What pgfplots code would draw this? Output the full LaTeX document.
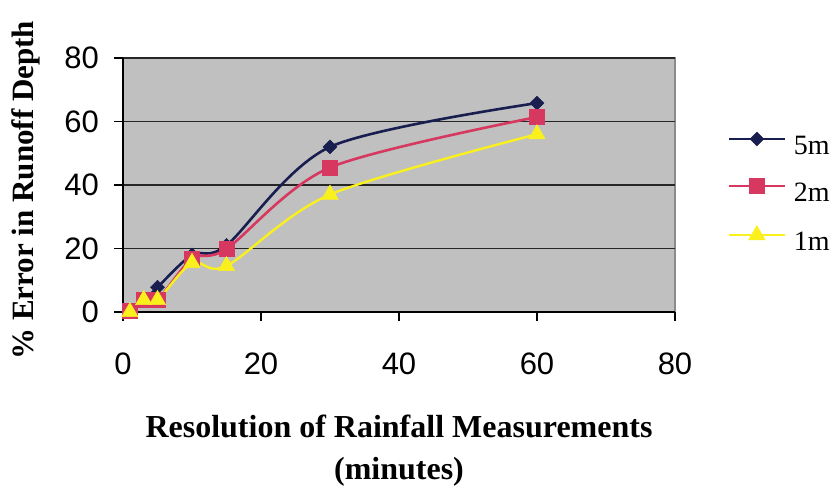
\documentclass[border=0pt]{standalone}
\usepackage{fontspec}
\usepackage{pgfplots}
\pgfplotsset{compat=1.18}
\setmainfont{Liberation Serif}
\newfontfamily\arialfont{Liberation Sans}

\definecolor{navyline}{RGB}{25,30,80}
\definecolor{crimsonline}{RGB}{214,56,96}
\definecolor{yellowline}{RGB}{250,240,30}
\definecolor{plotbg}{RGB}{192,192,192}
\definecolor{framegray}{RGB}{140,140,140}

\begin{document}
\begin{tikzpicture}
\begin{axis}[
  at={(123pt,177pt)},
  scale only axis,
  width=552pt, height=254pt,
  xmin=0, xmax=80, ymin=0, ymax=80,
  xtick={0,20,40,60,80}, ytick={0,20,40,60,80},
  axis x line*=bottom, axis y line*=left,
  axis line style={black, line width=1.4pt},
  axis background/.style={fill=plotbg, draw=framegray, line width=2pt},
  ymajorgrids, major grid style={black!85, line width=1.6pt},
  tick align=outside, major tick length=9pt,
  tick style={black, line width=1.2pt},
  /pgf/number format/assume math mode=true,
  ticklabel style={font=\arialfont\fontsize{31}{34}\selectfont},
  xticklabel style={inner sep=0pt, yshift=-32pt},
  yticklabel style={inner sep=0pt, xshift=-15pt},
  clip=false,
  xlabel={Resolution of Rainfall Measurements\\(minutes)},
  xlabel style={at={(axis description cs:0.5,-0.4055)}, anchor=north,
    align=center, inner sep=0pt, font=\bfseries\fontsize{32}{42}\selectfont},
  ylabel={\% Error in Runoff Depth},
  ylabel style={at={(axis description cs:-0.176,0.48)}, anchor=center,
    inner sep=0pt, font=\bfseries\fontsize{31}{34}\selectfont},
  legend style={at={(axis description cs:1.188,0.475)}, anchor=center,
    draw=none, fill=none, font=\fontsize{28}{28}\selectfont,
    row sep=24pt, cells={anchor=west},
    nodes={inner sep=0pt, text height=19pt, text depth=0pt},
    /tikz/every odd column/.append style={column sep=8pt}},
  legend image code/.code={
    \draw[mark repeat=2, mark phase=2, line width=2.8pt]
      plot coordinates {(0pt,6pt) (27.5pt,6pt) (55pt,6pt)};
  },
]
% 5 m plot
\addplot[navyline, line width=2.6pt, smooth, tension=0.5,
  mark=square*, mark size=4.9pt, mark options={rotate=45, solid, line width=0.5pt}]
  coordinates {(1,0) (3,3.5) (5,7.8) (10,18) (15,21) (30,52) (60,65.8)};
\addlegendentry{5m}
% 2 m plot
\addplot[crimsonline, line width=2.6pt, smooth, tension=0.5,
  mark=square*, mark size=7.5pt, mark options={solid, line width=0.5pt}]
  coordinates {(1,0.5) (3,3.8) (5,3.8) (10,16.8) (15,19.9) (30,45.5) (60,61.4)};
\addlegendentry{2m}
% 1 m plot
\addplot[yellowline, line width=2.4pt, smooth, tension=0.5,
  mark=triangle*, mark size=9.5pt, mark options={solid, line width=0.5pt}]
  coordinates {(1,0) (3,3.8) (5,3.8) (10,15.5) (15,14.5) (30,37) (60,56)};
\addlegendentry{1m}
\end{axis}
\pgfresetboundingbox
\path[use as bounding box] (0,0) rectangle (835pt,489pt);
\end{tikzpicture}
\end{document}
